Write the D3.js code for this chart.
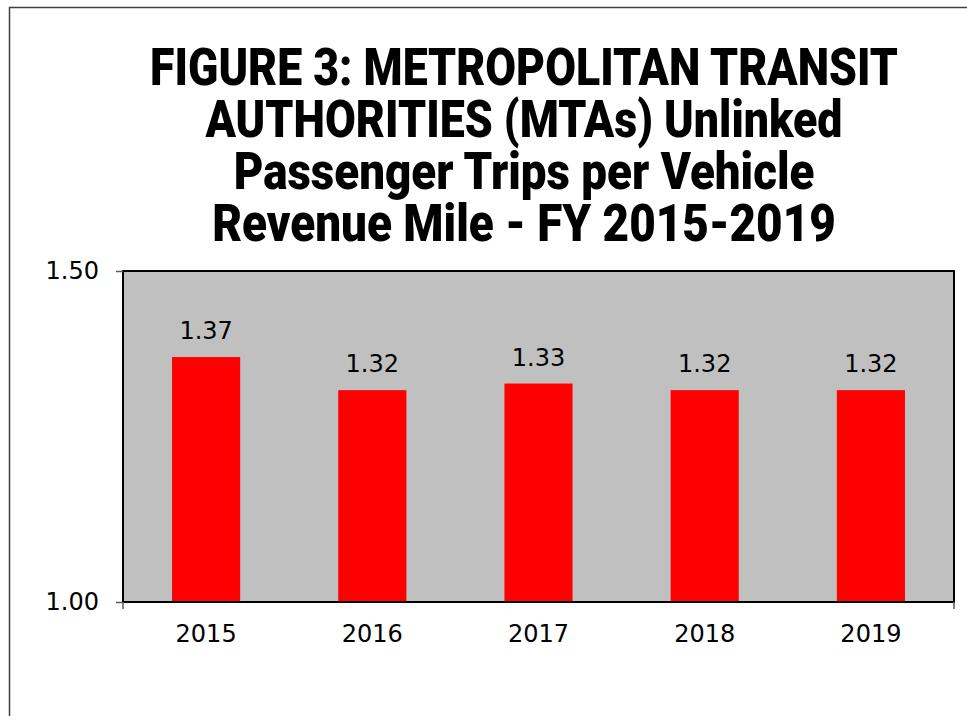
<!DOCTYPE html>
<html>
<head>
<meta charset="utf-8">
<script src="https://cdn.jsdelivr.net/npm/d3@7"></script>
<style>
  body { margin: 0; background: #fff; }
  svg { display: block; }
</style>
</head>
<body>
<div id="chart"></div>
<script>
// data
const years = ["2015", "2016", "2017", "2018", "2019"];
const tripsPerMile = [1.37, 1.32, 1.33, 1.32, 1.32];
const yTicks = [1.00, 1.50];
const titleLines = [
  "FIGURE 3: METROPOLITAN TRANSIT",
  "AUTHORITIES (MTAs) Unlinked",
  "Passenger Trips per Vehicle",
  "Revenue Mile - FY 2015-2019"
];
const titleWidths = [748, 637, 581, 624];

const W = 967, H = 716;
const margin = { top: 271, right: 13, bottom: 114, left: 123 };
const width = W - margin.left - margin.right;
const height = H - margin.top - margin.bottom;

const svg = d3.select("#chart").append("svg")
  .attr("width", W)
  .attr("height", H);

// outer frame
svg.append("rect")
  .attr("x", 9.5).attr("y", 7.5)
  .attr("width", W + 20).attr("height", H + 20)
  .attr("fill", "none")
  .attr("stroke", "#404040")
  .attr("stroke-width", 1.5);

// title - each line squeezed horizontally to the width seen in the picture
const title = svg.append("g").attr("class", "title");
titleLines.forEach(function (t, i) {
  const txt = title.append("text")
    .attr("x", 0)
    .attr("y", 0)
    .attr("text-anchor", "middle")
    .attr("font-family", "Roboto, 'Liberation Sans', sans-serif")
    .attr("font-weight", 900)
    .attr("font-size", 52)
    .attr("fill", "#000")
    .text(t);
  const w = txt.node().getComputedTextLength();
  const sx = titleWidths[i] / w;
  txt.attr("transform", "translate(524," + (85 + i * 52) + ") scale(" + sx + ",1)");
});

const g = svg.append("g")
  .attr("transform", "translate(" + margin.left + "," + margin.top + ")");

const x = d3.scaleBand()
  .domain(years)
  .range([0, width])
  .paddingInner(0.59)
  .paddingOuter(0.295);

const y = d3.scaleLinear()
  .domain([1.0, 1.5])
  .range([height, 0]);

// plot area
g.append("rect")
  .attr("width", width)
  .attr("height", height)
  .attr("fill", "#c0c0c0");

// bars
g.selectAll(".bar")
  .data(years)
  .enter().append("rect")
  .attr("class", "bar")
  .attr("x", function (d) { return x(d); })
  .attr("y", function (d, i) { return y(tripsPerMile[i]); })
  .attr("width", x.bandwidth())
  .attr("height", function (d, i) { return height - y(tripsPerMile[i]); })
  .attr("fill", "#ff0000");

// value labels
g.selectAll(".val")
  .data(years)
  .enter().append("text")
  .attr("class", "val")
  .attr("x", function (d) { return x(d) + x.bandwidth() / 2; })
  .attr("y", function (d, i) { return y(tripsPerMile[i]) - 18; })
  .attr("text-anchor", "middle")
  .attr("font-family", "'DejaVu Sans', sans-serif")
  .attr("font-size", 24)
  .attr("fill", "#000")
  .text(function (d, i) { return tripsPerMile[i].toFixed(2); });

// plot border
g.append("rect")
  .attr("width", width)
  .attr("height", height)
  .attr("fill", "none")
  .attr("stroke", "#000")
  .attr("stroke-width", 2);

// y axis
const yAxis = d3.axisLeft(y)
  .tickValues(yTicks)
  .tickFormat(d3.format(".2f"))
  .tickSize(7)
  .tickPadding(17);

const ya = g.append("g").attr("class", "yaxis").call(yAxis);
ya.select(".domain").remove();
ya.selectAll(".tick line").attr("stroke", "#595959").attr("stroke-width", 1.5);
ya.selectAll(".tick text")
  .attr("font-family", "'DejaVu Sans', sans-serif")
  .attr("font-size", 24)
  .attr("fill", "#000");

// x axis
const xAxis = d3.axisBottom(x).tickSize(0).tickPadding(23);
const xa = g.append("g")
  .attr("class", "xaxis")
  .attr("transform", "translate(0," + height + ")")
  .call(xAxis);
xa.select(".domain").remove();
xa.selectAll(".tick text")
  .attr("font-family", "'DejaVu Sans', sans-serif")
  .attr("font-size", 24)
  .attr("fill", "#000");

// end ticks below the category axis
g.selectAll(".endtick")
  .data([0, width])
  .enter().append("line")
  .attr("class", "endtick")
  .attr("x1", function (d) { return d; })
  .attr("x2", function (d) { return d; })
  .attr("y1", height)
  .attr("y2", height + 7)
  .attr("stroke", "#595959")
  .attr("stroke-width", 1.5);
</script>
</body>
</html>
